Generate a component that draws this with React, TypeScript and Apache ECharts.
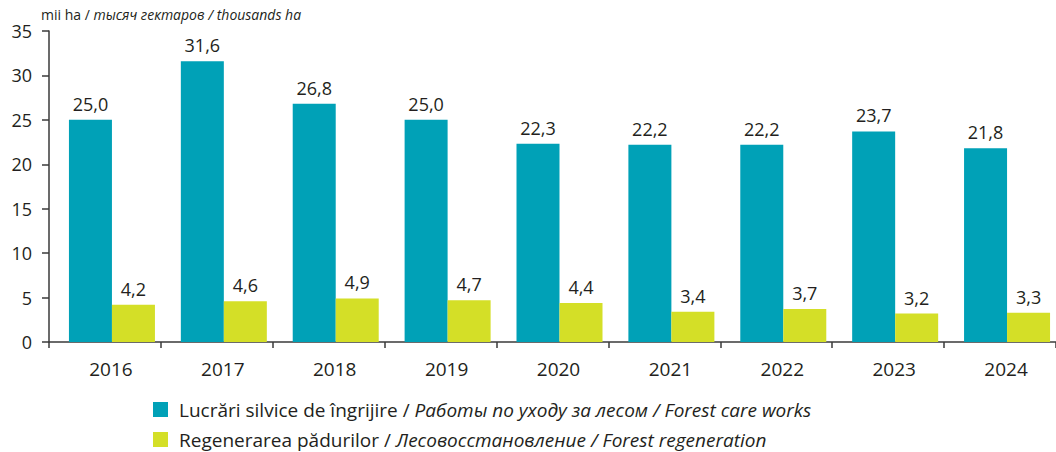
import React, { useEffect, useRef } from "react";
import * as echarts from "echarts";

const years = ["2016", "2017", "2018", "2019", "2020", "2021", "2022", "2023", "2024"];
const careWorks = [25.0, 31.6, 26.8, 25.0, 22.3, 22.2, 22.2, 23.7, 21.8];
const regeneration = [4.2, 4.6, 4.9, 4.7, 4.4, 3.4, 3.7, 3.2, 3.3];
const spacer = years.map(() => null);

const careName = "Lucrări silvice de îngrijire";
const regenName = "Regenerarea pădurilor";
const legendRich: Record<string, string> = {
  [careName]: "{n|Lucrări silvice de îngrijire / }{i|Работы по уходу за лесом / Forest care works}",
  [regenName]: "{n|Regenerarea pădurilor / }{i|Лесовосстановление / Forest regeneration}",
};

const FONT = "'Open Sans', 'Noto Sans', sans-serif";
const TXT = "#231f20";

const legendBase = (name: string, top: number) => ({
  orient: "horizontal",
  left: 153,
  top,
  padding: 0,
  itemWidth: 15,
  itemHeight: 15,
  icon: "rect",
  data: [name],
  formatter: (n: string) => legendRich[n] || n,
  textStyle: {
    rich: {
      n: { fontFamily: FONT, fontSize: 19, color: TXT, fontWeight: "normal", lineHeight: 24, padding: [0, 0, 0, 6] },
      i: { fontFamily: FONT, fontSize: 19, color: TXT, fontStyle: "italic", fontWeight: "normal", lineHeight: 24 },
    },
  },
});

export default function App() {
  const ref = useRef<HTMLDivElement>(null);
  useEffect(() => {
    if (!ref.current) return;
    const chart = echarts.init(ref.current, undefined, { renderer: "svg" });
    const fmt = (p: any) => (p.value == null ? "" : Number(p.value).toFixed(1).replace(".", ","));
    chart.setOption({
      animation: false,
      textStyle: { fontFamily: FONT, color: TXT },
      title: {
        left: 41,
        top: 5,
        padding: 0,
        text: "{a|mii ha / }{b|тысяч гектаров / thousands ha}",
        textStyle: {
          fontWeight: "normal",
          rich: {
            a: { fontFamily: FONT, fontSize: 14, color: TXT, fontWeight: "normal", lineHeight: 18 },
            b: { fontFamily: FONT, fontSize: 14, color: TXT, fontStyle: "italic", fontWeight: "normal", lineHeight: 18 },
          },
        },
      },
      legend: [legendBase(careName, 400), legendBase(regenName, 430)],
      grid: { left: 49, top: 31, width: 1011, height: 311, containLabel: false },
      xAxis: {
        type: "category",
        data: years,
        axisLine: { lineStyle: { color: "#3a3a3a", width: 1.5 } },
        axisTick: { show: true, length: 6, lineStyle: { color: "#3a3a3a", width: 1.5 } },
        axisLabel: { color: TXT, fontSize: 19, fontFamily: FONT, margin: 17, padding: [0, 0, 0, 12] },
      },
      yAxis: {
        type: "value",
        min: 0,
        max: 35,
        interval: 5,
        splitLine: { show: false },
        axisLine: { show: true, lineStyle: { color: "#3a3a3a", width: 1.5 } },
        axisTick: { show: true, length: 7, lineStyle: { color: "#3a3a3a", width: 1.5 } },
        axisLabel: { color: TXT, fontSize: 18, fontFamily: FONT, margin: 17 },
      },
      series: [
        {
          name: "spacer",
          type: "bar",
          data: spacer,
          barWidth: 14,
          barGap: "0%",
          itemStyle: { color: "transparent" },
          silent: true,
        },
        {
          name: careName,
          type: "bar",
          data: careWorks,
          barWidth: 43,
          barGap: "0%",
          itemStyle: { color: "#00a1b7" },
          label: { show: true, position: "top", distance: 7, formatter: fmt, color: TXT, fontSize: 18, fontFamily: FONT },
        },
        {
          name: regenName,
          type: "bar",
          data: regeneration,
          barWidth: 43,
          barGap: "0%",
          itemStyle: { color: "#d4df27" },
          label: { show: true, position: "top", distance: 7, formatter: fmt, color: TXT, fontSize: 18, fontFamily: FONT },
        },
      ],
    });
    return () => chart.dispose();
  }, []);
  return (
    <div
      ref={ref}
      style={{ position: "absolute", left: 0, top: 0, width: 1056, height: 452, background: "#fff" }}
    />
  );
}
